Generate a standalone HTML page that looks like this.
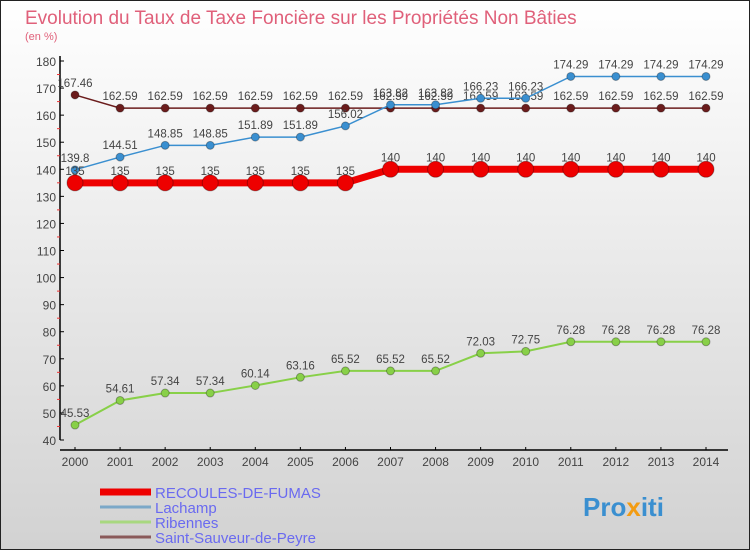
<!DOCTYPE html>
<html><head><meta charset="utf-8"><style>
body{margin:0;width:750px;height:550px;overflow:hidden;font-family:"Liberation Sans",sans-serif}
svg{display:block}
</style></head><body>
<svg id="c" width="750" height="550">
<defs><linearGradient id="bg" x1="0" y1="0" x2="0" y2="1"><stop offset="0" stop-color="#ffffff"/><stop offset="1" stop-color="#d2d2d2"/></linearGradient></defs>
<rect x="0.5" y="0.5" width="749" height="549" fill="url(#bg)" stroke="#222"/>
<text x="25" y="24" font-size="19" fill="#e0607a">Evolution du Taux de Taxe Foncière sur les Propriétés Non Bâties</text>
<text x="25" y="40" font-size="11" fill="#e0607a">(en %)</text>
<g id="axes"></g><g id="series"></g><g id="legend"></g>
<text x="583" y="516" font-size="26" font-weight="bold" fill="#3a8fd0">Pro<tspan fill="#f39c12">x</tspan>iti</text>
</svg>
<script>
const years=[2000,2001,2002,2003,2004,2005,2006,2007,2008,2009,2010,2011,2012,2013,2014];
const recoules=[135,135,135,135,135,135,135,140,140,140,140,140,140,140,140];
const lachamp=[139.8,144.51,148.85,148.85,151.89,151.89,156.02,163.82,163.82,166.23,166.23,174.29,174.29,174.29,174.29];
const ribennes=[45.53,54.61,57.34,57.34,60.14,63.16,65.52,65.52,65.52,72.03,72.75,76.28,76.28,76.28,76.28];
const saint=[167.46,162.59,162.59,162.59,162.59,162.59,162.59,162.59,162.59,162.59,162.59,162.59,162.59,162.59,162.59];
const yTicks=[40,50,60,70,80,90,100,110,120,130,140,150,160,170,180];
const NS="http://www.w3.org/2000/svg";
const X=i=>75+i*(706-75)/(years.length-1);
const Y=v=>440-(v-40)*(440-61)/140;
function mk(t,a,p){const e=document.createElementNS(NS,t);for(const k in a)e.setAttribute(k,a[k]);p.appendChild(e);return e;}
const ax=document.getElementById('axes');
let yl=mk('line',{x1:60,y1:56,x2:60,y2:440,stroke:'#000','stroke-width':1.5},ax);


yTicks.forEach(v=>{
 mk('line',{x1:60,x2:64,y1:Y(v),y2:Y(v),stroke:'#000'},ax);
 if(v<180)mk('line',{x1:57,x2:60,y1:Y(v+5),y2:Y(v+5),stroke:'#e33'},ax);
 const t=mk('text',{x:56,y:Y(v)+5,'font-size':12,'text-anchor':'end',fill:'#444'},ax);t.textContent=v;
 
 
});
let xl=mk('line',{x1:60,y1:450,x2:728,y2:450,stroke:'#000','stroke-width':1.5},ax);


years.forEach((y,i)=>{
 mk('line',{x1:X(i),x2:X(i),y1:447,y2:450,stroke:'#000'},ax);
 const t=mk('text',{x:X(i),y:466,'font-size':12,'text-anchor':'middle',fill:'#444'},ax);t.textContent=y;
 
 
});
const sg=document.getElementById('series');
function series(data,color,w,r,name,fmt){
 const g=mk('g',{},sg);
 
 
 mk('polyline',{points:data.map((v,i)=>X(i)+','+Y(v)).join(' '),fill:'none',stroke:color,'stroke-width':w},g);
 data.forEach((v,i)=>{
  const c=mk('circle',{cx:X(i),cy:Y(v),r:r,fill:color,stroke:'rgba(0,0,0,0.3)'},g);
  
  
  const t=mk('text',{x:X(i),y:Y(v)-8,'font-size':11.5,'text-anchor':'middle',fill:'#444'},g);t.textContent=fmt(v);
  
  
 });
}
const f=v=>String(v);
series(saint,'#6b1c1c',1.5,4,'saint-sauveur-series',f);
series(lachamp,'#3a8fd0',1.5,4,'lachamp-series',f);
series(ribennes,'#88d048',2,4,'ribennes-series',f);
series(recoules,'#ee0000',7,8,'recoules-series',f);
const lg=document.getElementById('legend');
[['RECOULES-DE-FUMAS','#ee0000',7,493],['Lachamp','#7ba8c8',3,508],['Ribennes','#a8d880',3,523],['Saint-Sauveur-de-Peyre','#8a5a5a',3,538]].forEach(d=>{
 const g=mk('g',{},lg);
 
 
 mk('line',{x1:100,x2:151,y1:d[3]-1,y2:d[3]-1,stroke:d[1],'stroke-width':d[2]},g);
 const t=mk('text',{x:155,y:d[3]+5,'font-size':15,fill:'#6a6af0'},g);t.textContent=d[0];
});
</script>
</body></html>
